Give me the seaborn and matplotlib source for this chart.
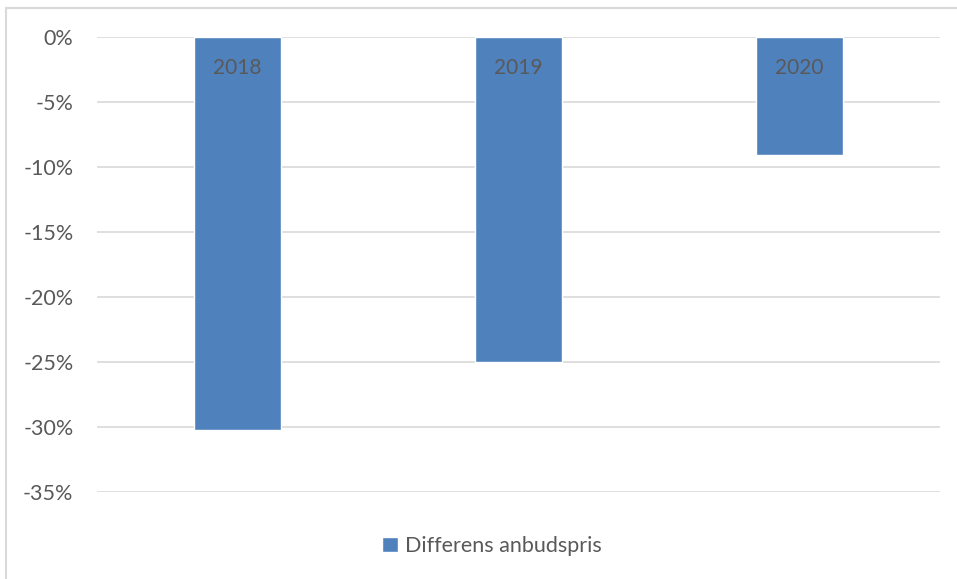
import matplotlib
matplotlib.use("Agg")
import matplotlib.pyplot as plt
from matplotlib.patches import Rectangle, Patch
from matplotlib.ticker import FuncFormatter
import seaborn as sns
import pandas as pd

years = ["2018", "2019", "2020"]
diff_pct = [-0.302, -0.250, -0.091]
series_name = "Differens anbudspris"

bar_color = "#4F81BD"
text_color = "#595959"
grid_color = "#D9D9D9"

sns.set_style("white")
plt.rcParams["font.family"] = ["Lato", "DejaVu Sans"]

df = pd.DataFrame({"year": years, "diff": diff_pct})

fig = plt.figure(figsize=(9.57, 5.79), dpi=100)
ax = fig.add_axes([97 / 957, 1 - 492 / 579, (940 - 97) / 957, (492 - 37) / 579])

sns.barplot(data=df, x="year", y="diff", color=bar_color, width=0.313,
            saturation=1, ax=ax, zorder=3)

ax.set_ylim(-0.35, 0)
ax.set_yticks([0, -0.05, -0.10, -0.15, -0.20, -0.25, -0.30, -0.35])
ax.yaxis.set_major_formatter(FuncFormatter(lambda v, p: f"{round(v * 100):d}%"))
ax.set_xlim(-0.5, 2.5)
ax.set_xticks([])
ax.set_xlabel("")
ax.set_ylabel("")
ax.grid(axis="y", color=grid_color, linewidth=1.2, zorder=0)
ax.tick_params(axis="y", length=0, labelsize=15.5, labelcolor=text_color, pad=17)
for s in ax.spines.values():
    s.set_visible(False)

# category names inside the bars, near the top
for i, yr in enumerate(years):
    ax.text(i, -0.024, yr, ha="center", va="center", fontsize=15,
            color=text_color, zorder=4)

handles = [Patch(facecolor=bar_color, label=series_name)]
fig.legend(handles=handles, loc="center", bbox_to_anchor=(0.514, 1 - 546 / 579),
           frameon=False, fontsize=15.5, labelcolor=text_color,
           handlelength=0.75, handleheight=0.75, handletextpad=0.35)

# outer chart frame
fig.patches.append(Rectangle((5.5 / 957, -0.05), 1.2, 1 - 8 / 579 + 0.05,
                             transform=fig.transFigure, fill=False,
                             edgecolor=grid_color, linewidth=1.5))

fig.savefig("out.png", dpi=100)
